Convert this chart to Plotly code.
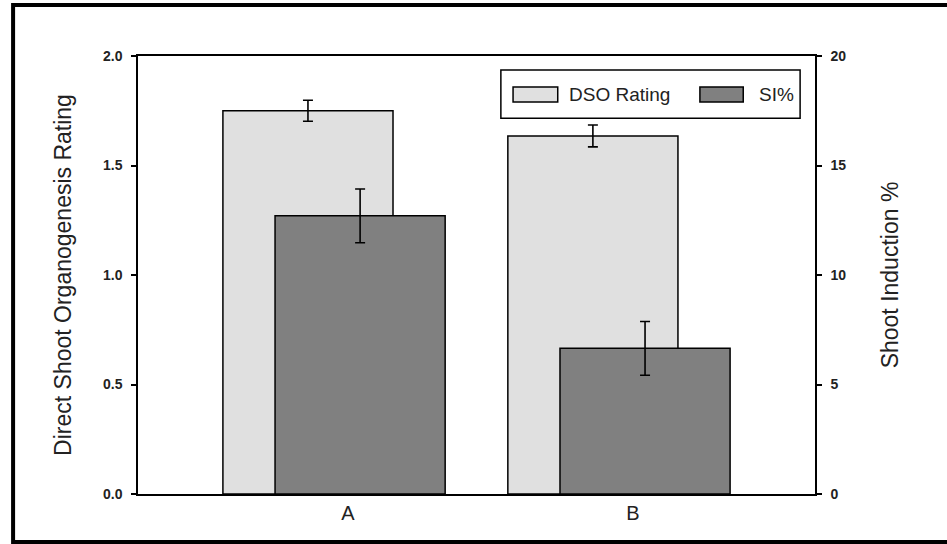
import plotly.graph_objects as go

# Treatments and measured responses (mean ± SE)
categories = ["A", "B"]
series_names = ["DSO Rating", "SI%"]
dso_rating = [1.75, 1.635]
dso_err = [0.048, 0.05]
shoot_induction = [12.7, 6.65]
si_err = [1.23, 1.23]

y1_ticks = [0.0, 0.5, 1.0, 1.5, 2.0]
y2_ticks = [0, 5, 10, 15, 20]

FONT = "Liberation Sans, Arial, sans-serif"
DSO_FILL = "#e0e0e0"
SI_FILL = "#808080"

fig = go.Figure()

fig.add_trace(go.Bar(
    x=categories, y=dso_rating, name=series_names[0],
    offset=-0.439, width=0.597,
    marker=dict(color=DSO_FILL, line=dict(color="black", width=1.5)),
    error_y=dict(type="data", array=dso_err, color="black", thickness=1.6, width=5),
    yaxis="y",
))
fig.add_trace(go.Bar(
    x=categories, y=shoot_induction, name=series_names[1],
    offset=-0.256, width=0.597,
    marker=dict(color=SI_FILL, line=dict(color="black", width=1.5)),
    error_y=dict(type="data", array=si_err, color="black", thickness=1.6, width=5),
    yaxis="y2",
))

tick_font = dict(family=FONT, size=14, color="#222", weight="bold")
title_font = dict(family=FONT, size=23, color="#222")

fig.update_layout(
    width=947, height=544,
    margin=dict(l=138, r=132, t=56, b=50),
    paper_bgcolor="white", plot_bgcolor="white",
    barmode="overlay", showlegend=False,
    xaxis=dict(
        type="category", range=[-0.737, 1.639],
        showline=True, linecolor="black", linewidth=1.5, mirror=True,
        ticks="", showgrid=False, zeroline=False,
        tickfont=dict(family=FONT, size=20, color="#222"),
    ),
    yaxis=dict(
        range=[0, 2.0], tickvals=y1_ticks, ticktext=[f"{v:.1f}" for v in y1_ticks],
        showline=True, linecolor="black", linewidth=1.5,
        ticks="outside", ticklen=5, tickwidth=1.5, tickcolor="black",
        showgrid=False, zeroline=False, tickfont=tick_font,
        ticklabelstandoff=6,
        title=dict(text="Direct Shoot Organogenesis Rating", font=title_font, standoff=25),
    ),
    yaxis2=dict(
        range=[0, 20], tickvals=y2_ticks, overlaying="y", side="right",
        showline=True, linecolor="black", linewidth=1.5,
        ticks="outside", ticklen=5, tickwidth=1.5, tickcolor="black",
        showgrid=False, zeroline=False, tickfont=tick_font,
        ticklabelstandoff=6,
        title=dict(text="Shoot Induction %", font=title_font, standoff=37),
    ),
)

shapes = [
    # outer frame around the figure (right side runs past the page edge)
    dict(type="rect", xref="paper", yref="paper",
         x0=-0.1845, x1=1.6, y0=-0.1096, y1=1.1164,
         line=dict(color="black", width=4), layer="above"),
    # legend box
    dict(type="rect", xref="paper", yref="paper",
         x0=0.536, x1=0.978, y0=0.858, y1=0.968,
         line=dict(color="black", width=1.5), fillcolor="white", layer="above"),
    dict(type="rect", xref="paper", yref="paper",
         x0=0.554, x1=0.620, y0=0.895, y1=0.929,
         line=dict(color="black", width=1.5), fillcolor=DSO_FILL, layer="above"),
    dict(type="rect", xref="paper", yref="paper",
         x0=0.830, x1=0.894, y0=0.895, y1=0.929,
         line=dict(color="black", width=1.5), fillcolor=SI_FILL, layer="above"),
]
legend_font = dict(family=FONT, size=19, color="#222")
annotations = [
    dict(xref="paper", yref="paper", x=0.634, y=0.912, text=series_names[0],
         showarrow=False, xanchor="left", yanchor="middle", font=legend_font),
    dict(xref="paper", yref="paper", x=0.914, y=0.912, text=series_names[1],
         showarrow=False, xanchor="left", yanchor="middle", font=legend_font),
]
fig.update_layout(shapes=shapes, annotations=annotations)

fig.write_html("out.html")
